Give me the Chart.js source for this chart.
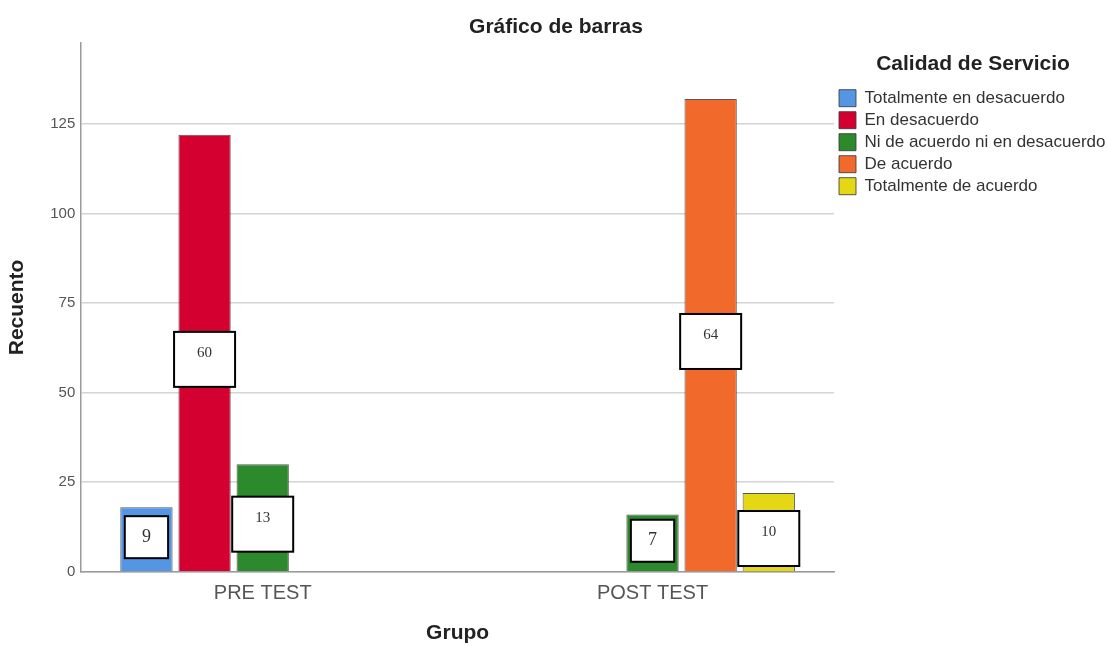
<!DOCTYPE html>
<html lang="es">
<head>
<meta charset="utf-8">
<title>Gráfico de barras</title>
<script src="https://cdn.jsdelivr.net/npm/chart.js@4/dist/chart.umd.min.js"></script>
<style>
  html, body { margin: 0; padding: 0; background: #ffffff; }
  canvas { display: block; }
</style>
</head>
<body>
<canvas id="grafico" width="1107" height="646"></canvas>
<script>
// Recuento por grupo y nivel de calidad de servicio
const grupos = ['PRE TEST', 'POST TEST'];

const totalmenteDesacuerdo   = [18, null];
const enDesacuerdo           = [122, null];
const niAcuerdoNiDesacuerdo  = [30, 16];
const deAcuerdo              = [null, 132];
const totalmenteAcuerdo      = [null, 22];

// Porcentajes mostrados en las etiquetas de cada barra
const pctTotalmenteDesacuerdo  = [9, null];
const pctEnDesacuerdo          = [60, null];
const pctNiAcuerdoNiDesacuerdo = [13, 7];
const pctDeAcuerdo             = [null, 64];
const pctTotalmenteAcuerdo     = [null, 10];

const nombresSerie = [
  'Totalmente en desacuerdo',
  'En desacuerdo',
  'Ni de acuerdo ni en desacuerdo',
  'De acuerdo',
  'Totalmente de acuerdo'
];
const coloresSerie = ['#5596e4', '#d4002f', '#2c892c', '#f26a2b', '#e4d814'];

const ejeYMax = 147.6;
const ejeYPaso = 25;

const valoresSerie = [totalmenteDesacuerdo, enDesacuerdo, niAcuerdoNiDesacuerdo, deAcuerdo, totalmenteAcuerdo];
const etiquetasSerie = [pctTotalmenteDesacuerdo, pctEnDesacuerdo, pctNiAcuerdoNiDesacuerdo, pctDeAcuerdo, pctTotalmenteAcuerdo];

Chart.defaults.font.family = '"Liberation Sans", Arial, sans-serif';

// Cuadros blancos con el porcentaje; el texto queda a media altura de la barra
const cuadrosPorcentaje = {
  id: 'cuadrosPorcentaje',
  afterDatasetsDraw(chart) {
    const ctx = chart.ctx;
    chart.data.datasets.forEach((ds, di) => {
      const meta = chart.getDatasetMeta(di);
      if (meta.hidden) return;
      meta.data.forEach((barra, i) => {
        const pct = ds.porcentajes[i];
        if (pct === null || pct === undefined) return;
        const { x, y, base, width } = barra.getProps(['x', 'y', 'base', 'width'], true);
        const alto = base - y;
        const medio = (y + base) / 2;
        let w, h, arriba, tam;
        if (alto < 70) {
          // barra baja: cuadro pequeño dentro de la barra
          w = width - 9; h = 42; arriba = medio - 2 - h / 2; tam = 18;
        } else {
          w = 61; h = 55; arriba = medio - 21; tam = 15;
        }
        ctx.save();
        ctx.fillStyle = '#ffffff';
        ctx.fillRect(x - w / 2, arriba, w, h);
        ctx.lineWidth = 2;
        ctx.strokeStyle = '#000000';
        ctx.strokeRect(x - w / 2, arriba, w, h);
        ctx.fillStyle = '#333333';
        ctx.font = tam + 'px "Liberation Serif", "Times New Roman", serif';
        ctx.textAlign = 'center';
        ctx.textBaseline = 'middle';
        ctx.fillText(String(pct), x, alto < 70 ? arriba + h / 2 : medio);
        ctx.restore();
      });
    });
  }
};

// Margen de cada extremo del eje de categorías, en unidades de categoría
const margenCategoria = 0.4655;

new Chart(document.getElementById('grafico'), {
  type: 'bar',
  data: {
    labels: grupos,
    datasets: valoresSerie.map((valores, k) => ({
      label: nombresSerie[k],
      data: valores,
      porcentajes: etiquetasSerie[k],
      backgroundColor: coloresSerie[k],
      borderColor: 'rgba(60,60,60,0.85)',
      borderWidth: 1,
      categoryPercentage: 0.7455,
      barPercentage: 0.9
    }))
  },
  options: {
    responsive: false,
    animation: false,
    layout: { padding: { left: 0, right: -5, top: 0, bottom: 0 } },
    plugins: {
      title: {
        display: true,
        text: 'Gráfico de barras',
        color: '#222222',
        font: { size: 21, weight: 'bold' },
        padding: { top: 15, bottom: 2.8 }
      },
      legend: {
        position: 'right',
        align: 'start',
        fullSize: false,
        title: {
          display: true,
          text: 'Calidad de Servicio',
          color: '#222222',
          font: { size: 21, weight: 'bold' },
          padding: { top: 10.5, bottom: 6 }
        },
        labels: {
          boxWidth: 17,
          boxHeight: 17,
          padding: 5,
          color: '#333333',
          font: { size: 17 }
        }
      },
      tooltip: { enabled: false }
    },
    scales: {
      x: {
        afterBuildTicks(scale) {
          scale._startValue = -margenCategoria;
          scale._valueRange = grupos.length - 1 + 2 * margenCategoria;
        },
        grid: { display: false, drawTicks: false },
        border: { color: '#9a9a9a', width: 1.5 },
        ticks: { color: '#555555', font: { size: 20 }, padding: 10 },
        title: {
          display: true,
          text: 'Grupo',
          color: '#222222',
          font: { size: 21, weight: 'bold' },
          padding: { top: 5, bottom: 0 }
        }
      },
      y: {
        min: 0,
        max: ejeYMax,
        grid: { color: '#d4d4d4', lineWidth: 1.5, drawTicks: false },
        border: { color: '#9a9a9a', width: 1.5 },
        ticks: { stepSize: ejeYPaso, includeBounds: false, color: '#555555', font: { size: 15 }, padding: 6 },
        title: {
          display: true,
          text: 'Recuento',
          color: '#222222',
          font: { size: 21, weight: 'bold' },
          padding: { top: 5, bottom: 14 }
        }
      }
    }
  },
  plugins: [cuadrosPorcentaje]
});
</script>
</body>
</html>
